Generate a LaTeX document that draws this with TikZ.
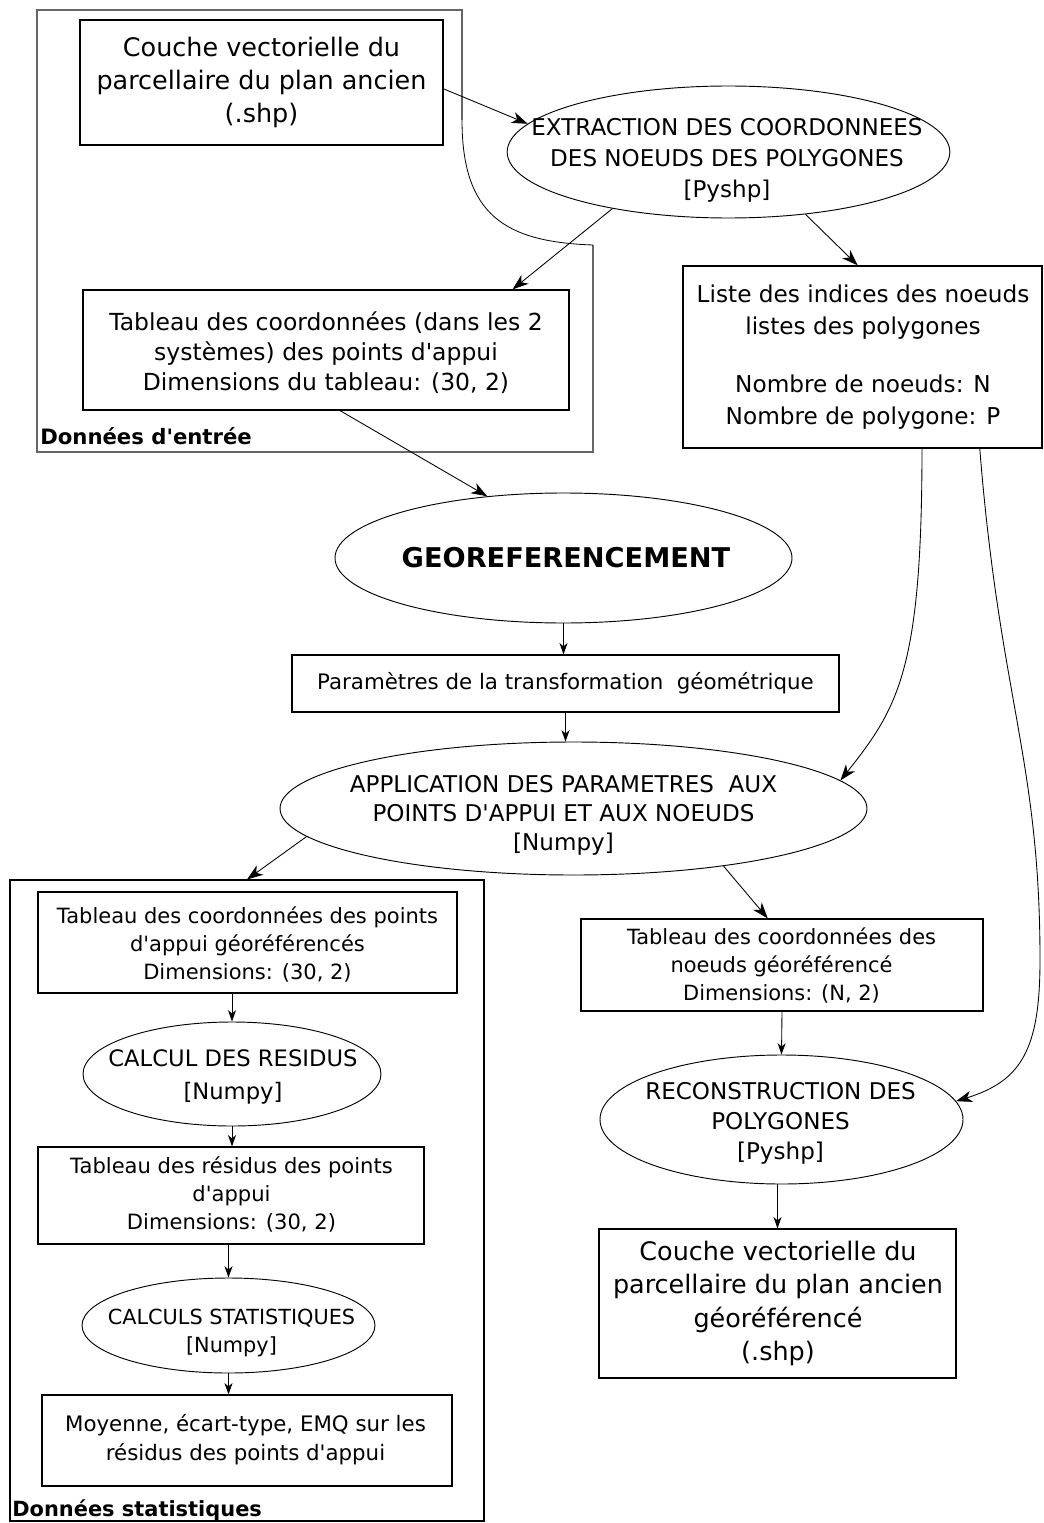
\documentclass[tikz,border=0pt]{standalone}
\usepackage{fontspec}
\setmainfont{DejaVu Sans}[Ligatures=TeXOff]
\usetikzlibrary{shapes.geometric,arrows.meta}

\begin{document}
\begin{tikzpicture}[x=0.75pt,y=0.75pt,yscale=-1,xscale=1,
    box/.style={draw, rectangle, line width=0.9pt, inner sep=0pt},
    oval/.style={draw, ellipse, line width=0.7pt, inner sep=0pt},
    txt/.style={align=center, inner sep=0pt},
    flow/.style={-{Stealth[length=12pt,width=8.5pt,inset=3.5pt]}, line width=0.65pt},
    shortflow/.style={-{Stealth[length=8.5pt,width=6pt,inset=2.5pt]}, line width=0.65pt},
    lbl/.style={inner sep=0pt, anchor=base west}]
\useasboundingbox (0,0) rectangle (1043,1523);

        %Shape: Frame (donnees d'entree)
        \draw [gray!80!black, line width=1pt] (462,120) -- (462,10) -- (37,10) -- (37,452) -- (593,452) -- (593,245) ;
        \draw [line width=0.6pt] (462,120) .. controls (462,215) and (505,242) .. (593,245) ;
        %Shape: Frame (donnees statistiques)
        \draw (247,1200.5) node [box, line width=0.8pt, minimum width=355.5pt, minimum height=480.75pt] (statframe) {} ;

        %Shape: Rectangle
        \draw (261.5,82.5) node [box, minimum width=272.25pt, minimum height=93.75pt] (couche) {} ;
        %Shape: Ellipse
        \draw (728.5,152) node [oval, minimum width=332pt, minimum height=99pt] (extr) {} ;
        %Shape: Rectangle
        \draw (326,350) node [box, minimum width=364.5pt, minimum height=90pt] (tabl) {} ;
        %Shape: Rectangle
        \draw (862.5,357) node [box, minimum width=269.25pt, minimum height=136.5pt] (liste) {} ;
        %Shape: Ellipse
        \draw (563.5,558) node [oval, minimum width=342.75pt, minimum height=97.5pt] (georef) {} ;
        %Shape: Rectangle
        \draw (565.5,683.5) node [box, minimum width=410.25pt, minimum height=42.75pt] (param) {} ;
        %Shape: Ellipse
        \draw (573.5,808.5) node [oval, minimum width=440.25pt, minimum height=99.75pt] (appl) {} ;
        %Shape: Rectangle
        \draw (247.5,942.5) node [box, minimum width=314.25pt, minimum height=75.75pt] (tgeo) {} ;
        %Shape: Ellipse
        \draw (232,1074) node [oval, minimum width=223.5pt, minimum height=78pt] (resid) {} ;
        %Shape: Rectangle
        \draw (231,1195.5) node [box, minimum width=289.5pt, minimum height=72.75pt] (tres) {} ;
        %Shape: Ellipse
        \draw (228.5,1325.5) node [oval, minimum width=219.75pt, minimum height=71.25pt] (stats) {} ;
        %Shape: Rectangle
        \draw (247,1440.5) node [box, minimum width=307.5pt, minimum height=68.25pt] (moy) {} ;
        %Shape: Rectangle
        \draw (782,965) node [box, minimum width=301.5pt, minimum height=69pt] (tnoe) {} ;
        %Shape: Ellipse
        \draw (781.5,1119.5) node [oval, minimum width=272.25pt, minimum height=96.75pt] (recon) {} ;
        %Shape: Rectangle
        \draw (777.5,1303.5) node [box, minimum width=267.75pt, minimum height=111.75pt] (final) {} ;

        %Straight Lines
        \draw [flow] (couche.-2.4) -- (extr.172) ;
        \draw [flow] (extr.206) -- (tabl.18) ;
        \draw [flow] (extr.-39) -- (liste.93.5) ;
        \draw [flow] (tabl.-77) -- (georef.141) ;
        \draw [shortflow] (georef.south) -- (georef.south |- param.north) ;
        \draw [shortflow] (param.south) -- (param.south |- appl.north) ;
        \draw [flow] (appl.186) -- (statframe.north) ;
        \draw [flow] (appl.-21) -- (tnoe.107) ;
        \draw [shortflow] (tnoe.south) -- (recon.north) ;
        \draw [shortflow] (final.north |- recon.south) -- (final.north) ;
        \draw [shortflow] (resid.north |- tgeo.south) -- (resid.north) ;
        \draw [shortflow] (resid.south) -- (resid.south |- tres.north) ;
        \draw [shortflow] (stats.north |- tres.south) -- (stats.north) ;
        \draw [shortflow] (stats.south) -- (stats.south |- moy.north) ;
        %Curve Lines
        \draw [flow] (liste.-57.7) .. controls +(0,220) and +(58,-73) .. (appl.6) ;
        \draw [flow] (liste.-38.5) .. controls +(20,250) and +(0,-200) .. (1040,960) .. controls +(0,90) and +(65,-20) .. (recon.6) ;

        % Text Node
        \draw (261.5,82.5) node [txt, font=\fontsize{19.1}{24.4}\selectfont] (couche-t) {Couche vectorielle du\\parcellaire du plan ancien\\(.shp)};
        % Text Node
        \draw (727,160) node [txt, font=\fontsize{17.3}{23.25}\selectfont] (extr-t) {EXTRACTION DES COORDONNEES\\DES NOEUDS DES POLYGONES\\{[Pyshp]}};
        % Text Node
        \draw (326,353) node [txt, font=\fontsize{17.6}{22.5}\selectfont] (tabl-t) {Tableau des coordonnées (dans les 2\\systèmes) des points d'appui\\Dimensions du tableau: (30, 2)};
        % Text Node
        \draw (863,357) node [txt, font=\fontsize{17.4}{24}\selectfont] (liste-t) {Liste des indices des noeuds\\listes des polygones\\[19.5pt]Nombre de noeuds: N\\Nombre de polygone: P};
        % Text Node
        \draw (566,558) node [txt, font=\bfseries\fontsize{20.4}{24}\selectfont] (georef-t) {GEOREFERENCEMENT};
        % Text Node
        \draw (565.5,683.5) node [txt, font=\fontsize{16}{20}\selectfont] (param-t) {Paramètres de la transformation~~géométrique};
        % Text Node
        \draw (563.5,815) node [txt, font=\fontsize{17.3}{21.75}\selectfont] (appl-t) {APPLICATION DES PARAMETRES~~AUX\\POINTS D'APPUI ET AUX NOEUDS\\{[Numpy]}};
        % Text Node
        \draw (247.5,944) node [txt, font=\fontsize{15.75}{21}\selectfont] (tgeo-t) {Tableau des coordonnées des points\\d'appui géoréférencés\\Dimensions: (30, 2)};
        % Text Node
        \draw (233,1077) node [txt, font=\fontsize{17}{24.5}\selectfont] (resid-t) {CALCUL DES RESIDUS\\{[Numpy]}};
        % Text Node
        \draw (231.5,1194) node [txt, font=\fontsize{15.8}{21}\selectfont] (tres-t) {Tableau des résidus des points\\d'appui\\Dimensions: (30, 2)};
        % Text Node
        \draw (231.5,1333) node [txt, font=\fontsize{15.6}{21}\selectfont] (stats-t) {CALCULS STATISTIQUES\\{[Numpy]}};
        % Text Node
        \draw (245.5,1439.5) node [txt, font=\fontsize{16}{21.75}\selectfont] (moy-t) {Moyenne, écart-type, EMQ sur les\\résidus des points d'appui};
        % Text Node
        \draw (781.5,965) node [txt, font=\fontsize{15.7}{21}\selectfont] (tnoe-t) {Tableau des coordonnées des\\noeuds géoréférencé\\Dimensions: (N, 2)};
        % Text Node
        \draw (780.5,1123) node [txt, font=\fontsize{17.3}{22.5}\selectfont] (recon-t) {RECONSTRUCTION DES\\POLYGONES\\{[Pyshp]}};
        % Text Node
        \draw (778,1303.5) node [txt, font=\fontsize{19.1}{25}\selectfont] (final-t) {Couche vectorielle du\\parcellaire du plan ancien\\géoréférencé\\(.shp)};
        % Text Node
        \draw (40,444) node [lbl, font=\bfseries\fontsize{15.9}{19}\selectfont] (entree-l) {Données d'entrée};
        % Text Node
        \draw (12,1516) node [lbl, font=\bfseries\fontsize{15.7}{19}\selectfont] (stat-l) {Données statistiques};
\end{tikzpicture}
\end{document}
